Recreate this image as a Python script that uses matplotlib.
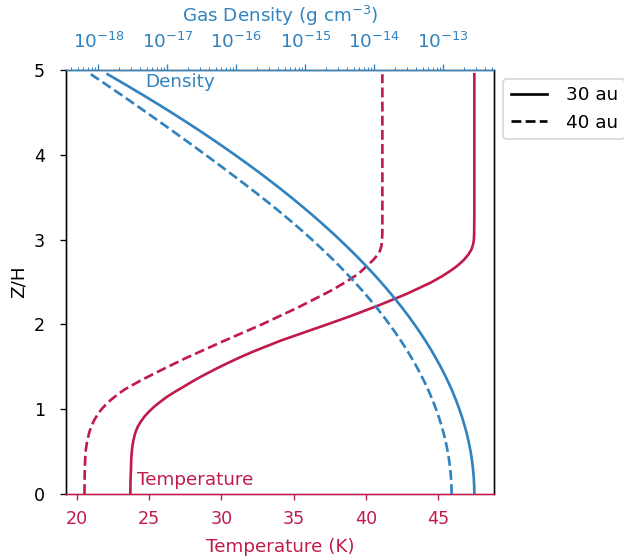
import numpy as np
import matplotlib
matplotlib.use("Agg")
import matplotlib.pyplot as plt
from matplotlib.lines import Line2D

# ---- data ----
z_temp_30 = [0.0, 0.15, 0.28, 0.4, 0.48, 0.56, 0.64, 0.72, 0.79, 0.85, 0.91, 0.97, 1.03,
             1.09, 1.15, 1.21, 1.27, 1.34, 1.40, 1.47, 1.54, 1.61, 1.68, 1.81, 1.9, 2.0,
             2.1, 2.23, 2.36, 2.49, 2.57, 2.64, 2.70, 2.76, 2.82, 2.88, 2.94, 3.0, 3.08,
             3.3, 4.95]
temp_30 = [23.70, 23.71, 23.74, 23.76, 23.79, 23.84, 23.92, 24.04, 24.2, 24.41, 24.66, 24.98,
           25.35, 25.79, 26.27, 26.83, 27.43, 28.12, 28.76, 29.55, 30.38, 31.26, 32.2, 34.12,
           35.63, 37.32, 38.96, 40.96, 42.81, 44.44, 45.28, 45.91, 46.38, 46.76, 47.06, 47.28,
           47.40, 47.46, 47.48, 47.49, 47.49]

z_temp_40 = [0.0, 0.15, 0.3, 0.42, 0.52, 0.62, 0.72, 0.8, 0.87, 0.93, 0.99, 1.05, 1.11,
             1.17, 1.23, 1.34, 1.44, 1.6, 1.8, 2.0, 2.2, 2.4, 2.5, 2.6, 2.68, 2.76, 2.82,
             2.87, 2.93, 3.0, 3.1, 3.3, 4.95]
temp_40 = [20.53, 20.535, 20.55, 20.58, 20.62, 20.71, 20.85, 21.0, 21.2, 21.41, 21.66, 21.98,
           22.35, 22.79, 23.28, 24.43, 25.58, 27.5, 30.1, 32.8, 35.3, 37.6, 38.6, 39.5, 40.0,
           40.5, 40.8, 40.97, 41.07, 41.11, 41.13, 41.13, 41.13]

z_dens = [0.0, 0.1, 0.2, 0.3, 0.4, 0.5, 0.6, 0.7, 0.8, 0.9, 1.0, 1.1, 1.2, 1.3, 1.4, 1.5,
          1.6, 1.7, 1.8, 1.9, 2.0, 2.1, 2.2, 2.3, 2.4, 2.5, 2.6, 2.7, 2.8, 2.9, 3.0, 3.1,
          3.2, 3.3, 3.4, 3.5, 3.6, 3.7, 3.8, 3.9, 4.0, 4.1, 4.2, 4.3, 4.4, 4.5, 4.6, 4.7,
          4.8, 4.9, 4.95]
log_dens_30 = [-12.550, -12.552, -12.559, -12.570, -12.585, -12.604, -12.628, -12.656,
               -12.689, -12.726, -12.767, -12.813, -12.862, -12.917, -12.975, -13.038,
               -13.106, -13.177, -13.253, -13.333, -13.418, -13.507, -13.600, -13.698,
               -13.800, -13.906, -14.017, -14.132, -14.251, -14.375, -14.503, -14.635,
               -14.772, -14.913, -15.059, -15.208, -15.362, -15.521, -15.683, -15.851,
               -16.022, -16.198, -16.378, -16.562, -16.751, -16.944, -17.142, -17.344,
               -17.550, -17.760, -17.867]
log_dens_40 = [-12.880, -12.882, -12.889, -12.900, -12.916, -12.936, -12.961, -12.990,
               -13.024, -13.062, -13.105, -13.152, -13.204, -13.260, -13.321, -13.386,
               -13.456, -13.530, -13.609, -13.692, -13.780, -13.872, -13.969, -14.070,
               -14.176, -14.286, -14.401, -14.520, -14.644, -14.772, -14.905, -15.042,
               -15.184, -15.330, -15.480, -15.634, -15.792, -15.953, -16.116, -16.281,
               -16.448, -16.616, -16.786, -16.957, -17.130, -17.304, -17.480, -17.657,
               -17.836, -18.018, -18.110]

density_ticks = [1e-18, 1e-17, 1e-16, 1e-15, 1e-14, 1e-13]
legend_labels = ["30 au", "40 au"]

RED = "#c01b4b"
BLUE = "#3083bf"
LW = 1.6

fig = plt.figure(figsize=(5.2, 557 / 120), dpi=120)
ax = fig.add_axes([66 / 624, 1 - 494 / 557, 428 / 624, 424 / 557])

ax.plot(temp_30, z_temp_30, color=RED, lw=LW, ls="-")
ax.plot(temp_40, z_temp_40, color=RED, lw=LW, ls="--")
ax.set_xlim(19.25, 48.85)
ax.set_ylim(0, 5)
ax.set_ylabel("Z/H", fontsize=11)
ax.set_xlabel("Temperature (K)", fontsize=11, color=RED, labelpad=6)
ax.tick_params(axis="x", colors=RED, labelsize=10.5, pad=6)
ax.tick_params(axis="y", labelsize=10.5, pad=9)
ax.spines["bottom"].set_color(RED)

ax2 = ax.twiny()
ax2.set_xscale("log")
ax2.plot(10.0 ** np.array(log_dens_30), z_dens, color=BLUE, lw=LW, ls="-")
ax2.plot(10.0 ** np.array(log_dens_40), z_dens, color=BLUE, lw=LW, ls="--")
ax2.set_xlim(10 ** -18.47, 10 ** -12.265)
ax2.set_xticks(density_ticks)
ax2.set_ylim(0, 5)
ax2.set_xlabel("Gas Density (g cm$^{-3}$)", fontsize=11, color=BLUE, labelpad=6)
ax2.tick_params(axis="x", which="both", colors=BLUE, labelsize=11)
ax2.tick_params(axis="x", which="major", pad=7.5)
ax2.spines["top"].set_color(BLUE)
ax2.spines["bottom"].set_color(RED)

ax.text(0.185, 0.972, "Density", color=BLUE, fontsize=11, va="center", ha="left",
        transform=ax.transAxes)
ax.text(0.167, 0.033, "Temperature", color=RED, fontsize=11, va="center", ha="left",
        transform=ax.transAxes)

handles = [Line2D([], [], color="black", lw=LW, ls="-"),
           Line2D([], [], color="black", lw=LW, ls="--")]
ax2.legend(handles, legend_labels, loc="upper left", bbox_to_anchor=(1.0, 1.0),
           fontsize=11, handletextpad=1.0)

fig.savefig("out.png", dpi=120)
